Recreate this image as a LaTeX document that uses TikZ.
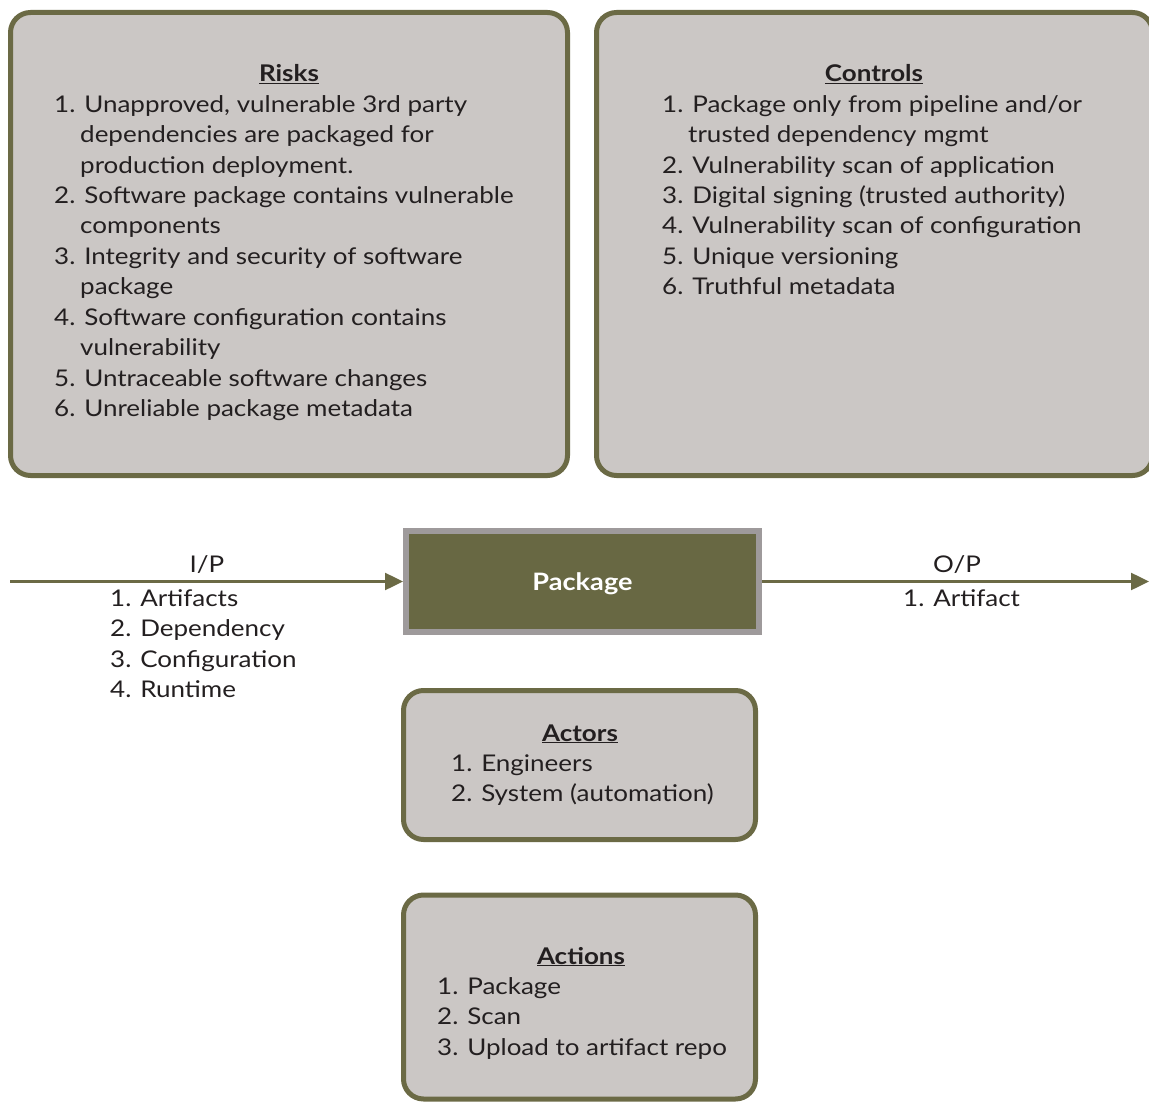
\documentclass[tikz,border=0pt]{standalone}
\usepackage{fontspec}
\setmainfont{Lato}[FakeStretch=1.13]
\usetikzlibrary{arrows.meta}
\definecolor{olive}{HTML}{6B6A45}
\definecolor{pkgfill}{HTML}{686843}
\definecolor{pkgedge}{HTML}{9E9A9B}
\definecolor{boxgray}{HTML}{CBC7C5}
\definecolor{ink}{HTML}{231F20}
\tikzset{
  panel/.style={draw=olive, fill=boxgray, line width=5pt, rounded corners=20pt, inner sep=0pt},
  txt/.style={anchor=base west, inner sep=0pt, text=ink, font=\fontsize{23}{28}\selectfont},
  ttl/.style={anchor=base, inner sep=0pt, text=ink, font=\bfseries\fontsize{23}{28}\selectfont},
  flow/.style={draw=olive, line width=2.5pt, -{Triangle[length=18pt,width=17pt]}}
}
\begin{document}
\begin{tikzpicture}[x=1pt,y=-1pt]
\useasboundingbox (0,0) rectangle (1149,1102);
\clip (0,0) rectangle (1149,1102);

% panels
\node[panel, minimum width=557pt, minimum height=463pt] (risks) at (289,244) {};
\node[panel, minimum width=556pt, minimum height=463pt] (controls) at (874.5,244) {};
\node[panel, minimum width=352pt, minimum height=149pt] (actors) at (579.5,765) {};
\node[panel, minimum width=352pt, minimum height=204pt] (actions) at (579.5,997) {};

% process block
\node[draw=pkgedge, fill=pkgfill, line width=6pt, minimum width=353pt, minimum height=101pt,
      text height=18pt, text depth=0pt,
      text=white, font=\bfseries\fontsize{24}{28}\selectfont] (pkg) at (582.5,581.5) {Package};

% input / output flow
\coordinate (inL) at (10,581.5);
\coordinate (outR) at (1149,581.5);
\draw[flow] (inL) -- (pkg.west);
\draw[flow] (pkg.east) -- (outR);

% risks list
\node[ttl] (rT) at (289,82) {\underline{Risks}};
\foreach \ind/\t [count=\i] in {
  0/{1. Unapproved, vulnerable 3rd party},
  1/dependencies are packaged for,
  1/production deployment.,
  0/2. Software package contains vulnerable,
  1/components,
  0/3. Integrity and security of software,
  1/package,
  0/4. Software configuration contains,
  1/vulnerability,
  0/5. Untraceable software changes,
  0/6. Unreliable package metadata}
  \node[txt] (r\i) at ({54+26*\ind}, {82+30.4*\i}) {\t};

% controls list
\node[ttl] (cT) at (874,82) {\underline{Controls}};
\foreach \ind/\t [count=\i] in {
  0/{1. Package only from pipeline and/or},
  1/trusted dependency mgmt,
  0/2. Vulnerability scan of application,
  0/3. Digital signing (trusted authority),
  0/4. Vulnerability scan of configuration,
  0/5. Unique versioning,
  0/6. Truthful metadata}
  \node[txt] (c\i) at ({662+26*\ind}, {82+30.4*\i}) {\t};

% inputs
\node[anchor=base, inner sep=0pt, text=ink, font=\fontsize{23}{28}\selectfont] (ipT) at (207,572) {I/P};
\foreach \t [count=\i] in {1. Artifacts, 2. Dependency, 3. Configuration, 4. Runtime}
  \node[txt] (ip\i) at (110, {576+30.4*\i}) {\t};

% outputs
\node[anchor=base, inner sep=0pt, text=ink, font=\fontsize{23}{28}\selectfont] (opT) at (957,572) {O/P};
\node[txt] (op1) at (903,606.5) {1. Artifact};

% actors
\node[ttl] (aT) at (580,741) {\underline{Actors}};
\foreach \t [count=\i] in {1. Engineers, 2. System (automation)}
  \node[txt] (a\i) at (451, {741+30.4*\i}) {\t};

% actions
\node[ttl] (xT) at (581,964) {\underline{Actions}};
\foreach \t [count=\i] in {1. Package, 2. Scan, 3. Upload to artifact repo}
  \node[txt] (x\i) at (437, {964+30.4*\i}) {\t};
\end{tikzpicture}
\end{document}
